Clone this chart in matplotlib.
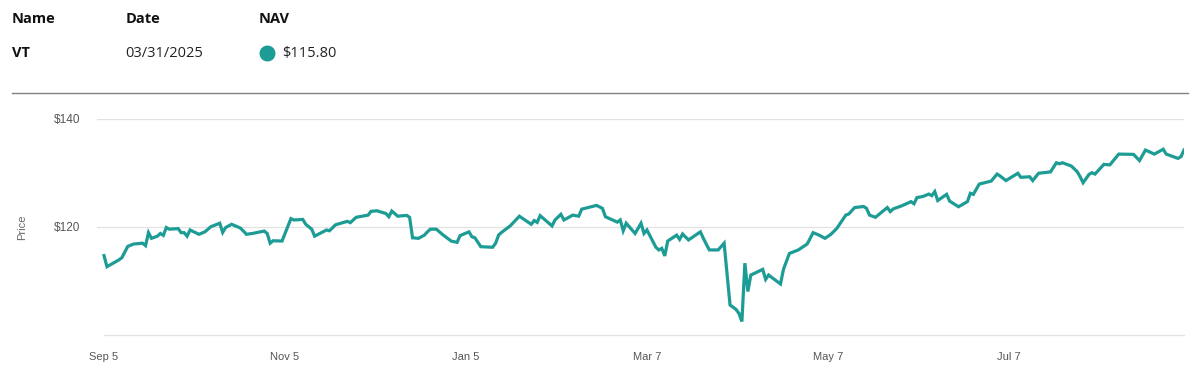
import pandas as pd
import matplotlib.pyplot as plt

# NAV values (date, price)
dates = [
    "2024-09-05", "2024-09-06", "2024-09-10", "2024-09-11", "2024-09-13", "2024-09-15",
    "2024-09-18", "2024-09-19", "2024-09-20", "2024-09-21", "2024-09-23", "2024-09-24",
    "2024-09-25", "2024-09-26", "2024-09-27", "2024-09-30", "2024-10-01", "2024-10-02",
    "2024-10-03", "2024-10-04", "2024-10-07", "2024-10-09", "2024-10-11", "2024-10-14",
    "2024-10-15", "2024-10-16", "2024-10-18", "2024-10-21", "2024-10-23", "2024-10-25",
    "2024-10-29", "2024-10-30", "2024-10-31", "2024-11-01", "2024-11-04", "2024-11-07",
    "2024-11-08", "2024-11-11", "2024-11-12", "2024-11-14", "2024-11-15", "2024-11-19",
    "2024-11-20", "2024-11-22", "2024-11-26", "2024-11-27", "2024-11-29", "2024-12-03",
    "2024-12-04", "2024-12-06", "2024-12-09", "2024-12-10", "2024-12-11", "2024-12-13",
    "2024-12-16", "2024-12-17", "2024-12-18", "2024-12-20", "2024-12-22", "2024-12-23",
    "2024-12-24", "2024-12-26", "2024-12-28", "2024-12-31", "2025-01-02", "2025-01-03",
    "2025-01-06", "2025-01-07", "2025-01-08", "2025-01-10", "2025-01-14", "2025-01-15",
    "2025-01-16", "2025-01-17", "2025-01-20", "2025-01-23", "2025-01-27", "2025-01-28",
    "2025-01-29", "2025-01-30", "2025-02-03", "2025-02-04", "2025-02-06", "2025-02-07",
    "2025-02-10", "2025-02-12", "2025-02-13", "2025-02-18", "2025-02-20", "2025-02-21",
    "2025-02-25", "2025-02-26", "2025-02-27", "2025-02-28", "2025-03-03", "2025-03-05",
    "2025-03-06", "2025-03-07", "2025-03-10", "2025-03-11", "2025-03-12", "2025-03-13",
    "2025-03-14", "2025-03-17", "2025-03-18", "2025-03-19", "2025-03-21", "2025-03-25",
    "2025-03-26", "2025-03-28", "2025-03-31", "2025-04-02", "2025-04-04", "2025-04-06",
    "2025-04-07", "2025-04-08", "2025-04-09", "2025-04-10", "2025-04-11", "2025-04-15",
    "2025-04-16", "2025-04-17", "2025-04-21", "2025-04-22", "2025-04-24", "2025-04-27",
    "2025-04-30", "2025-05-02", "2025-05-04", "2025-05-06", "2025-05-08", "2025-05-10",
    "2025-05-13", "2025-05-14", "2025-05-16", "2025-05-19", "2025-05-20", "2025-05-21",
    "2025-05-23", "2025-05-27", "2025-05-28", "2025-05-29", "2025-06-01", "2025-06-04",
    "2025-06-05", "2025-06-06", "2025-06-08", "2025-06-10", "2025-06-11", "2025-06-12",
    "2025-06-13", "2025-06-16", "2025-06-17", "2025-06-20", "2025-06-23", "2025-06-24",
    "2025-06-25", "2025-06-27", "2025-07-01", "2025-07-03", "2025-07-04", "2025-07-06",
    "2025-07-10", "2025-07-11", "2025-07-14", "2025-07-15", "2025-07-17", "2025-07-21",
    "2025-07-23", "2025-07-24", "2025-07-25", "2025-07-28", "2025-07-30", "2025-07-31",
    "2025-08-01", "2025-08-03", "2025-08-04", "2025-08-05", "2025-08-08", "2025-08-10",
    "2025-08-13", "2025-08-18", "2025-08-20", "2025-08-22", "2025-08-25", "2025-08-28",
    "2025-08-29", "2025-09-02", "2025-09-03", "2025-09-04",
]
prices = [
    114.7, 112.65, 113.9, 114.3, 116.4, 116.85,
    117.0, 116.55, 118.95, 117.9, 118.3, 118.8,
    118.45, 119.9, 119.6, 119.7, 118.95, 118.95,
    118.3, 119.45, 118.65, 119.1, 120.05, 120.7,
    119.0, 119.9, 120.5, 119.8, 118.65, 118.8,
    119.25, 118.8, 117.0, 117.45, 117.4, 121.55,
    121.3, 121.4, 120.5, 119.6, 118.3, 119.45,
    119.3, 120.4, 121.05, 120.8, 121.8, 122.2,
    122.9, 123.0, 122.5, 121.9, 122.95, 122.0,
    122.15, 121.8, 118.0, 117.9, 118.5, 119.1,
    119.6, 119.6, 118.65, 117.4, 117.15, 118.4,
    119.1, 118.2, 118.0, 116.35, 116.25, 117.0,
    118.5, 119.0, 120.25, 122.0, 120.5, 121.2,
    120.85, 122.1, 120.2, 121.3, 122.35, 121.3,
    122.2, 122.0, 123.3, 124.0, 123.45, 121.9,
    120.9, 121.3, 119.3, 120.7, 118.8, 120.7,
    118.8, 119.45, 116.25, 115.75, 116.05, 114.65,
    117.4, 118.5, 117.7, 118.7, 117.6, 119.1,
    117.9, 115.75, 115.75, 117.0, 105.55, 104.75,
    104.0, 102.5, 113.3, 108.05, 111.1, 112.15,
    110.3, 111.1, 109.45, 112.15, 115.1, 115.75,
    116.85, 118.95, 118.5, 117.9, 118.65, 119.75,
    122.2, 122.4, 123.6, 123.8, 123.45, 122.2,
    121.8, 123.6, 122.85, 123.35, 123.95, 124.7,
    124.3, 125.45, 125.65, 126.1, 125.8, 126.55,
    124.9, 126.05, 124.8, 123.75, 124.7, 126.25,
    126.05, 127.95, 128.5, 129.8, 129.45, 128.6,
    129.95, 129.2, 129.3, 128.6, 129.95, 130.2,
    131.9, 131.7, 131.9, 131.3, 130.25, 129.3,
    128.2, 129.75, 130.05, 129.8, 131.6, 131.5,
    133.5, 133.45, 132.3, 134.25, 133.5, 134.4,
    133.5, 132.7, 133.05, 134.25,
]

tick_dates = ["2024-09-05", "2024-11-05", "2025-01-05", "2025-03-07", "2025-05-07", "2025-07-07"]
tick_labels = ["Sep 5", "Nov 5", "Jan 5", "Mar 7", "May 7", "Jul 7"]
grid_values = [120, 140]
ytick_values = [120, 140]
ytick_labels = ["$120", "$140"]

header_cols = ["Name", "Date", "NAV"]
row_values = ["VT", "03/31/2025", "$115.80"]

teal = "#1c9c94"

df = pd.DataFrame({"date": pd.to_datetime(dates), "price": prices})

fig = plt.figure(figsize=(12, 3.72), dpi=100)
plt.rcParams["font.family"] = ["Open Sans", "DejaVu Sans"]

# header block
col_x = [12 / 1200, 126 / 1200, 259 / 1200]
head_y = 1 - 23 / 372
row_y = 1 - 57 / 372
for x, label in zip(col_x, header_cols):
    fig.text(x, head_y, label, fontsize=10.5, fontweight="bold", color="#111111", va="baseline")
fig.text(col_x[0], row_y, row_values[0], fontsize=10.5, fontweight="bold", color="#111111", va="baseline")
fig.text(col_x[1] - 1 / 1200, row_y, row_values[1], fontsize=10.5, color="#222222", va="baseline")
fig.add_artist(plt.Line2D([267 / 1200], [1 - 52.5 / 372], marker="o", markersize=10.5,
                          color=teal, linestyle="none", transform=fig.transFigure))
fig.text(282 / 1200, row_y, row_values[2], fontsize=10.5, color="#222222", va="baseline")
fig.add_artist(plt.Line2D([12 / 1200, 1188 / 1200], [1 - 93 / 372, 1 - 93 / 372],
                          color="#808080", linewidth=1))

# price chart
ax = fig.add_axes([97 / 1200, 37 / 372, 1087 / 1200, 216 / 372])
for v in grid_values:
    ax.axhline(v, color="#e2e2e2", linewidth=0.9, zorder=0)
# bottom baseline starts at the first data point
ax.axhline(100, xmin=7 / 1087, color="#e2e2e2", linewidth=0.9, zorder=0, clip_on=False)
ax.plot(df["date"], df["price"], color=teal, linewidth=2.3, solid_joinstyle="miter", zorder=2)

start = pd.Timestamp(dates[0])
ax.set_xlim(start - pd.Timedelta(days=2.36), pd.Timestamp(dates[-1]))
ax.set_ylim(100, 140)

ax.set_xticks(pd.to_datetime(tick_dates))
ax.set_xticklabels(tick_labels, fontsize=8, color="#555555", family=["Liberation Sans"])
ax.set_yticks(ytick_values)
ax.set_yticklabels(ytick_labels, fontsize=8.5, color="#555555", family=["Liberation Sans"])
ax.tick_params(axis="both", length=0)
ax.tick_params(axis="x", pad=12)
ax.tick_params(axis="y", pad=12)
ax.set_ylabel("Price", fontsize=8, color="#666666", family=["Liberation Sans"], labelpad=19)
for s in ax.spines.values():
    s.set_visible(False)

fig.savefig("out.png", dpi=100)
